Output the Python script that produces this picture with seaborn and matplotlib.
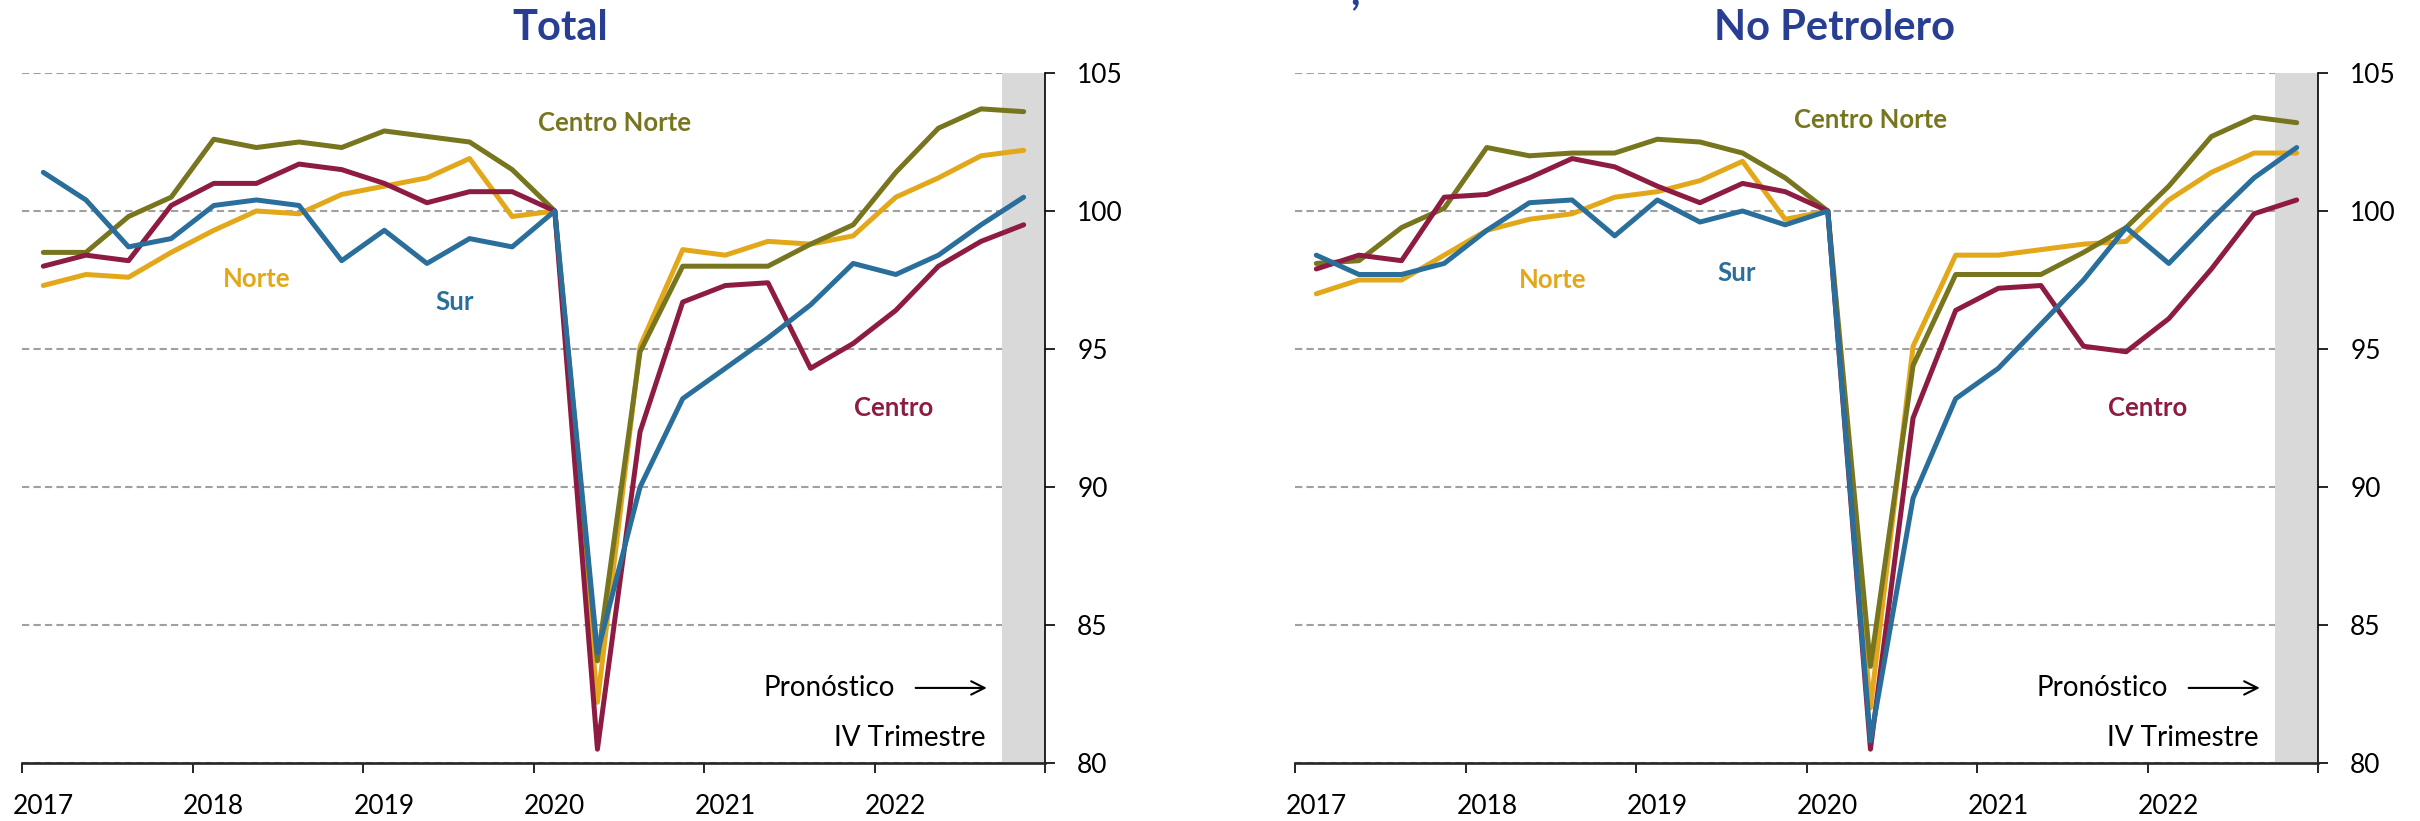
import numpy as np
import pandas as pd
import matplotlib
matplotlib.use("Agg")
import matplotlib.pyplot as plt
import seaborn as sns

# ---------------- data ----------------
quarters = ["2017Q1", "2017Q2", "2017Q3", "2017Q4", "2018Q1", "2018Q2", "2018Q3", "2018Q4",
            "2019Q1", "2019Q2", "2019Q3", "2019Q4", "2020Q1", "2020Q2", "2020Q3", "2020Q4",
            "2021Q1", "2021Q2", "2021Q3", "2021Q4", "2022Q1", "2022Q2", "2022Q3", "2022Q4"]
year_labels = ["2017", "2018", "2019", "2020", "2021", "2022"]
regions = ["Norte", "Centro Norte", "Centro", "Sur"]

# Panel 1: Total
total_norte = [97.3, 97.7, 97.6, 98.5, 99.3, 100.0, 99.9, 100.6, 100.9, 101.2, 101.9, 99.8,
               100.0, 82.2, 95.1, 98.6, 98.4, 98.9, 98.8, 99.1, 100.5, 101.2, 102.0, 102.2]
total_cnorte = [98.5, 98.5, 99.8, 100.5, 102.6, 102.3, 102.5, 102.3, 102.9, 102.7, 102.5, 101.5,
                100.0, 83.7, 94.9, 98.0, 98.0, 98.0, 98.8, 99.5, 101.4, 103.0, 103.7, 103.6]
total_centro = [98.0, 98.4, 98.2, 100.2, 101.0, 101.0, 101.7, 101.5, 101.0, 100.3, 100.7, 100.7,
                100.0, 80.5, 92.0, 96.7, 97.3, 97.4, 94.3, 95.2, 96.4, 98.0, 98.9, 99.5]
total_sur = [101.4, 100.4, 98.7, 99.0, 100.2, 100.4, 100.2, 98.2, 99.3, 98.1, 99.0, 98.7,
             100.0, 84.0, 90.0, 93.2, 94.3, 95.4, 96.6, 98.1, 97.7, 98.4, 99.5, 100.5]

# Panel 2: No Petrolero
np_norte = [97.0, 97.5, 97.5, 98.4, 99.3, 99.7, 99.9, 100.5, 100.7, 101.1, 101.8, 99.7,
            100.0, 82.0, 95.1, 98.4, 98.4, 98.6, 98.8, 98.9, 100.4, 101.4, 102.1, 102.1]
np_cnorte = [98.1, 98.2, 99.4, 100.1, 102.3, 102.0, 102.1, 102.1, 102.6, 102.5, 102.1, 101.2,
             100.0, 83.5, 94.4, 97.7, 97.7, 97.7, 98.5, 99.4, 100.9, 102.7, 103.4, 103.2]
np_centro = [97.9, 98.4, 98.2, 100.5, 100.6, 101.2, 101.9, 101.6, 100.9, 100.3, 101.0, 100.7,
             100.0, 80.5, 92.5, 96.4, 97.2, 97.3, 95.1, 94.9, 96.1, 97.9, 99.9, 100.4]
np_sur = [98.4, 97.7, 97.7, 98.1, 99.3, 100.3, 100.4, 99.1, 100.4, 99.6, 100.0, 99.5,
          100.0, 80.8, 89.6, 93.2, 94.3, 95.9, 97.5, 99.4, 98.1, 99.7, 101.2, 102.3]

colors = {"Norte": "#E3A71A", "Centro Norte": "#78751F", "Centro": "#8E1C42", "Sur": "#2A6E9B"}
title_color = "#283E92"

# label positions (x in quarter index, y in index value)
labels_total = {"Centro Norte": (13.4, 103.2), "Norte": (5.0, 97.55), "Sur": (9.65, 96.7), "Centro": (19.95, 92.85)}
labels_np = {"Centro Norte": (13.0, 103.3), "Norte": (5.55, 97.5), "Sur": (9.85, 97.75), "Centro": (19.5, 92.85)}

# ---------------- style ----------------
sns.set_theme(style="white")
plt.rcParams['font.family'] = ['Lato', 'DejaVu Sans']

fig = plt.figure(figsize=(24.2, 8.21), dpi=100)
W, H = 2420, 821
ax1 = fig.add_axes([22 / W, 58 / H, 1023 / W, 690 / H])
ax2 = fig.add_axes([1295 / W, 58 / H, 1023 / W, 690 / H])


def draw(ax, series, label_pos, title, title_x):
    df = pd.DataFrame({"q": np.arange(len(quarters))})
    for r, vals in zip(regions, series):
        df[r] = vals
    long = df.melt(id_vars="q", var_name="region", value_name="value")

    ax.set_axisbelow(True)
    ax.yaxis.grid(True, linestyle=(0, (3.5, 2)), color="#A0A0A0", linewidth=1.5)
    ax.xaxis.grid(False)
    ax.axvspan(len(quarters) - 1.5, len(quarters) - 0.5, color="#D9D9D9", lw=0, zorder=1)

    sns.lineplot(data=long, x="q", y="value", hue="region", hue_order=regions,
                 palette=colors, linewidth=3.6, legend=False, ax=ax, zorder=3)

    ax.set_xlim(-0.5, len(quarters) - 0.5)
    ax.set_ylim(80, 105)
    ax.set_xlabel("")
    ax.set_ylabel("")

    for s in ["left", "top"]:
        ax.spines[s].set_visible(False)
    ax.spines["bottom"].set_color("#262626")
    ax.spines["bottom"].set_linewidth(1.9)
    ax.spines["bottom"].set_zorder(4)
    ax.spines["right"].set_color("black")
    ax.spines["right"].set_linewidth(1.2)

    # y axis on right
    ax.yaxis.tick_right()
    ax.set_yticks([80, 85, 90, 95, 100, 105])
    ax.tick_params(axis="y", which="major", direction="out", length=7.2, width=1.2,
                   pad=16, labelsize=19, labelcolor="black", color="black",
                   left=False, right=True, labelleft=False, labelright=True)

    # x axis: ticks at year boundaries, labels at Q1 positions
    ax.set_xticks(np.arange(-0.5, len(quarters), 4))
    ax.set_xticklabels([])
    ax.set_xticks(np.arange(0, len(quarters), 4), minor=True)
    ax.set_xticklabels(year_labels, minor=True)
    ax.tick_params(axis="x", which="major", direction="out", length=7.2, width=1.2,
                   color="black", bottom=True)
    ax.tick_params(axis="x", which="minor", length=0, pad=22, labelsize=19,
                   labelcolor="black", bottom=True)

    for r, (x, y) in label_pos.items():
        ax.text(x, y, r, color=colors[r], fontsize=18.5, fontweight="bold",
                ha="center", va="center", zorder=5)

    ax.text(16.9, 82.72, "Pronóstico", fontsize=20, ha="left", va="center", color="black", zorder=5)
    ax.annotate("", xy=(22.2, 82.72), xytext=(20.4, 82.72),
                arrowprops=dict(arrowstyle="->,head_length=0.8,head_width=0.4",
                                lw=1.5, color="black"), zorder=5)
    ax.text(22.1, 80.9, "IV Trimestre", fontsize=20, ha="right", va="center", color="black", zorder=5)

    fig.text(title_x / W, 1 - 28 / H, title, fontsize=30, fontweight="bold",
             color=title_color, ha="center", va="center")


draw(ax1, [total_norte, total_cnorte, total_centro, total_sur], labels_total, "Total", 560)
draw(ax2, [np_norte, np_cnorte, np_centro, np_sur], labels_np, "No Petrolero", 1835)

# cut-off character of a super-title at the very top
fig.text(1355 / W, 1 - 4 / H, ",", fontsize=29, fontweight="bold", color=title_color,
         ha="center", va="baseline")

fig.savefig("out.png", dpi=100)
